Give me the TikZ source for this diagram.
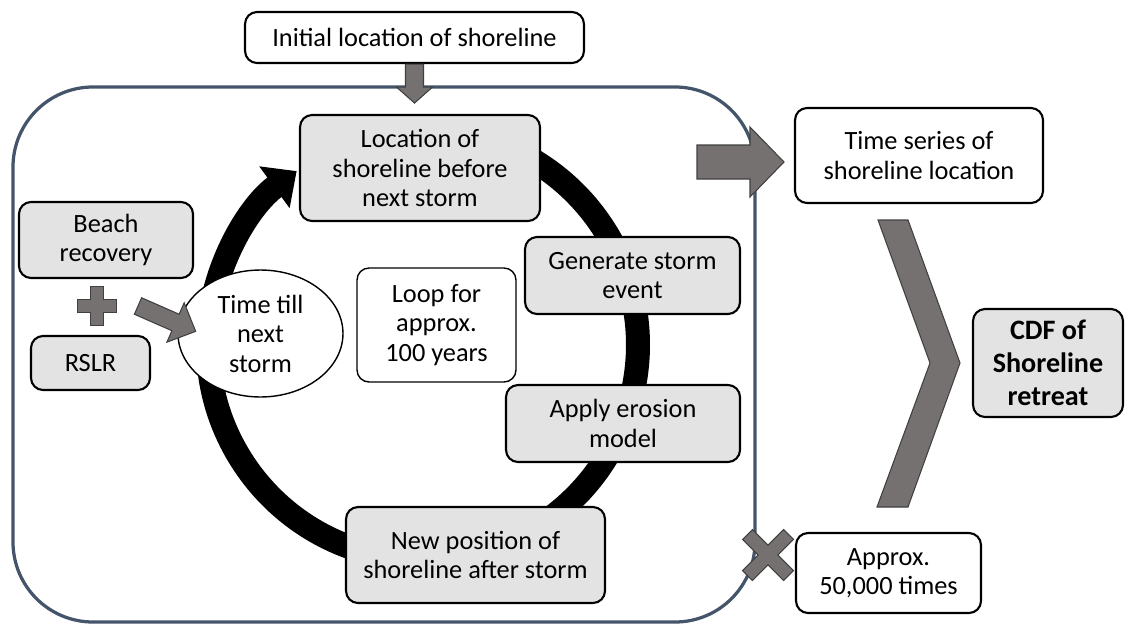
\documentclass[tikz,border=0pt]{standalone}
\usepackage{fontspec}
\setmainfont{Carlito}
\usetikzlibrary{arrows.meta,shapes.geometric}

\definecolor{framecol}{HTML}{44546A}
\definecolor{boxgray}{HTML}{E4E3E3}
\definecolor{arrowgray}{HTML}{767171}

\tikzset{
  box/.style={draw, line width=1.2pt, rounded corners=0.24cm, align=center, inner sep=2pt},
  graybox/.style={box, fill=boxgray},
  whitebox/.style={box, fill=white},
  blockshape/.style={fill=arrowgray, draw=black!75, line width=0.6pt},
  pics/fatarrow/.style n args={4}{code={
      \path[blockshape] (0,-#2) -- (#1-#4,-#2) -- (#1-#4,-#3) -- (#1,0)
        -- (#1-#4,#3) -- (#1-#4,#2) -- (0,#2) -- cycle;}},
  pics/crossmark/.style 2 args={code={
      \path[blockshape] (-#2,-#1) -- (#2,-#1) -- (#2,-#2) -- (#1,-#2) -- (#1,#2)
        -- (#2,#2) -- (#2,#1) -- (-#2,#1) -- (-#2,#2) -- (-#1,#2) -- (-#1,-#2)
        -- (-#2,-#2) -- cycle;}}
}

\begin{document}
\begin{tikzpicture}[x=0.02cm, y=-0.02cm, font=\fontsize{15}{16.8}\selectfont]

      \useasboundingbox (0,0) rectangle (1126,626);

      \draw[framecol, line width=0.065cm, rounded corners=1.6cm] (13,87) rectangle (755,622);

      \coordinate (loopc) at (423,345);
      \draw[line width=0.48cm, -{Triangle[length=0.55cm, width=1.0cm]}]
        ([shift={(80:4.3cm)}]loopc) arc[start angle=80, end angle=-234, radius=4.3cm];

      \begin{scope}[every node/.style={graybox}]
        \node[minimum width=4.8cm, minimum height=2.12cm] (loc) at (420,168) {Location of\\shoreline before\\next storm};
        \node[minimum width=3.48cm, minimum height=1.52cm] (beach) at (106,240) {Beach\\recovery};
        \node[minimum width=2.38cm, minimum height=1.08cm] (rslr) at (90.5,363) {RSLR};
        \node[minimum width=4.3cm, minimum height=1.54cm] (gen) at (632.5,275.5) {Generate storm\\event};
        \node[minimum width=4.68cm, minimum height=1.54cm] (apply) at (623,423.5) {Apply erosion\\model};
        \node[minimum width=5.18cm, minimum height=1.92cm] (newpos) at (475.5,555) {New position of\\shoreline after storm};
        \node[minimum width=3.0cm, minimum height=2.16cm, font=\fontsize{16}{18.7}\selectfont\bfseries] (cdf) at (1048,363) {CDF of\\Shoreline\\retreat};
      \end{scope}

      \begin{scope}[every node/.style={whitebox}]
        \node[minimum width=6.78cm, minimum height=1.02cm] (init) at (414.5,37.5) {Initial location of shoreline};
        \node[minimum width=4.96cm, minimum height=1.9cm] (tseries) at (919,155.5) {Time series of\\shoreline location};
        \node[minimum width=3.7cm, minimum height=1.6cm] (approx) at (888.5,573) {Approx.\\50,000 times};
        \node[line width=0.8pt, minimum width=3.18cm, minimum height=2.28cm] (loop) at (436.5,325) {Loop for\\approx.\\100 years};
        \node[ellipse, line width=0.8pt, minimum width=3.3cm, minimum height=2.54cm] (ttns) at (260.5,333.5) {Time till\\next\\storm};
      \end{scope}

      \pic[rotate=-90] at (init.south) {fatarrow={39}{9}{18}{16}};
      \pic[rotate=-23.7] at (138,306) {fatarrow={63}{9}{21.5}{22}};
      \pic at (697,162) {fatarrow={87}{17}{35}{34}};
      \pic at (97,306) {crossmark={19.5}{6.5}};
      \pic[rotate=45] at (768,555) {crossmark={29}{7}};
      \path[blockshape] (878,220) -- (908,220) -- (960,363) -- (908,507) -- (877,507) -- (930,363) -- cycle;

\end{tikzpicture}
\end{document}
